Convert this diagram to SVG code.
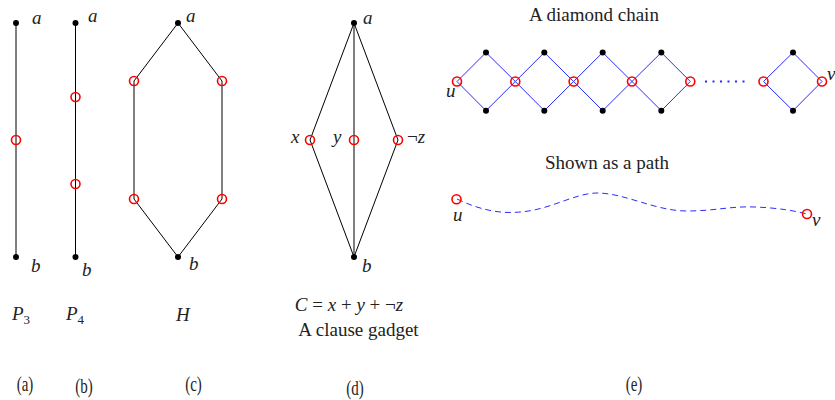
<svg xmlns="http://www.w3.org/2000/svg" width="835" height="400" viewBox="0 0 835 400">
<style>
.e{stroke:#000;stroke-width:1;fill:none}
.bl{stroke:#2b2bff;stroke-width:1;fill:none}
.dot{fill:#000}
.oc{fill:none;stroke:#ff0000;stroke-width:1.6}
</style>
<rect width="835" height="400" fill="#fff"/>
<g id="connectors">
<line class="e" x1="16" y1="23" x2="16" y2="257"/>
<line class="e" x1="75.5" y1="23" x2="75.5" y2="257"/>
<polyline class="e" points="134,199 134,81 178,23 222,81 222,199 178,257 134,199"/>
<line class="e" x1="354" y1="23" x2="310" y2="140"/>
<line class="e" x1="310" y1="140" x2="354" y2="257"/>
<line class="e" x1="354" y1="23" x2="354" y2="257"/>
<line class="e" x1="354" y1="23" x2="398" y2="140"/>
<line class="e" x1="398" y1="140" x2="354" y2="257"/>
<polygon class="bl" points="457,81.5 486,52.5 515.3,81.5 486,110.7"/>
<polygon class="bl" points="515.3,81.5 544.3,52.5 573.6,81.5 544.3,110.7"/>
<polygon class="bl" points="573.6,81.5 602.7,52.5 632,81.5 602.7,110.7"/>
<polygon class="bl" points="632,81.5 661.3,52.5 690.3,81.5 661.3,110.7"/>
<polygon class="bl" points="763.5,81.5 793,52.5 822,81.5 793,110.7"/>
<line x1="705" y1="81.5" x2="746" y2="81.5" stroke="#2b2bff" stroke-width="2.2" stroke-dasharray="2,5.5"/>
<path class="bl" stroke-dasharray="6,4" d="M457,199 C480,210 500,214 520,212 C550,210 575,193 597,193 C625,193 655,211 687,211 C715,211 730,206 755,207 C780,208 795,211 807,214"/>
</g>
<g id="a-graph">
<circle class="dot" cx="16" cy="23" r="3"/>
<circle class="oc" cx="16" cy="140" r="4.5"/>
<circle class="dot" cx="16" cy="257" r="3"/>
<text font-family="Liberation Serif" font-style="italic" font-size="19" fill="#222" x="32" y="24">a</text>
<text font-family="Liberation Serif" font-style="italic" font-size="19" fill="#222" x="31" y="272">b</text>
<text font-family="Liberation Serif" font-style="italic" font-size="19" fill="#222" x="12" y="320">P<tspan font-style="normal" font-size="13" dy="4">3</tspan></text>
<g transform="translate(25,391) scale(0.75,1)"><text font-family="Liberation Serif" font-size="20" fill="#222" text-anchor="middle">(a)</text></g>
</g>
<g id="b-graph">
<circle class="dot" cx="75.5" cy="23" r="3"/>
<circle class="oc" cx="75.5" cy="97" r="4.5"/>
<circle class="oc" cx="75.5" cy="184" r="4.5"/>
<circle class="dot" cx="75.5" cy="257" r="3"/>
<text font-family="Liberation Serif" font-style="italic" font-size="19" fill="#222" x="88" y="22">a</text>
<text font-family="Liberation Serif" font-style="italic" font-size="19" fill="#222" x="82" y="276">b</text>
<text font-family="Liberation Serif" font-style="italic" font-size="19" fill="#222" x="66" y="320">P<tspan font-style="normal" font-size="13" dy="4">4</tspan></text>
<g transform="translate(84,393) scale(0.75,1)"><text font-family="Liberation Serif" font-size="20" fill="#222" text-anchor="middle">(b)</text></g>
</g>
<g id="c-graph">
<circle class="dot" cx="178" cy="23" r="3"/>
<circle class="oc" cx="134" cy="81" r="4.5"/>
<circle class="oc" cx="222" cy="81" r="4.5"/>
<circle class="oc" cx="134" cy="199" r="4.5"/>
<circle class="oc" cx="222" cy="199" r="4.5"/>
<circle class="dot" cx="178" cy="257" r="3"/>
<text font-family="Liberation Serif" font-style="italic" font-size="19" fill="#222" x="186" y="22">a</text>
<text font-family="Liberation Serif" font-style="italic" font-size="19" fill="#222" x="189" y="270">b</text>
<text font-family="Liberation Serif" font-style="italic" font-size="19" fill="#222" x="176" y="321">H</text>
<g transform="translate(193.5,391) scale(0.75,1)"><text font-family="Liberation Serif" font-size="20" fill="#222" text-anchor="middle">(c)</text></g>
</g>
<g id="d-graph">
<circle class="dot" cx="354" cy="23" r="3"/>
<circle class="oc" cx="310" cy="140" r="4.5"/>
<circle class="oc" cx="354" cy="140" r="4.5"/>
<circle class="oc" cx="398" cy="140" r="4.5"/>
<circle class="dot" cx="354" cy="257" r="3"/>
<text font-family="Liberation Serif" font-style="italic" font-size="19" fill="#222" x="363" y="24">a</text>
<text font-family="Liberation Serif" font-style="italic" font-size="19" fill="#222" x="362" y="272">b</text>
<text font-family="Liberation Serif" font-style="italic" font-size="19" fill="#222" x="291" y="143">x</text>
<text font-family="Liberation Serif" font-style="italic" font-size="19" fill="#222" x="333" y="143">y</text>
<text font-family="Liberation Serif" font-size="19" fill="#222" x="407" y="143">¬<tspan font-style="italic">z</tspan></text>
<text font-family="Liberation Serif" font-size="19" fill="#222" x="349" y="311" text-anchor="middle"><tspan font-style="italic">C</tspan> = <tspan font-style="italic">x</tspan> + <tspan font-style="italic">y</tspan> + ¬<tspan font-style="italic">z</tspan></text>
<text font-family="Liberation Serif" font-size="19" fill="#222" x="358.5" y="336" text-anchor="middle">A clause gadget</text>
<g transform="translate(355,395) scale(0.75,1)"><text font-family="Liberation Serif" font-size="20" fill="#222" text-anchor="middle">(d)</text></g>
</g>
<g id="e-chain">
<text font-family="Liberation Serif" font-size="19" fill="#222" x="594" y="21" text-anchor="middle">A diamond chain</text>
<circle class="dot" cx="486" cy="52.5" r="3"/>
<circle class="dot" cx="486" cy="110.7" r="3"/>
<circle class="dot" cx="544.3" cy="52.5" r="3"/>
<circle class="dot" cx="544.3" cy="110.7" r="3"/>
<circle class="dot" cx="602.7" cy="52.5" r="3"/>
<circle class="dot" cx="602.7" cy="110.7" r="3"/>
<circle class="dot" cx="661.3" cy="52.5" r="3"/>
<circle class="dot" cx="661.3" cy="110.7" r="3"/>
<circle class="dot" cx="793" cy="52.5" r="3"/>
<circle class="dot" cx="793" cy="110.7" r="3"/>
<circle class="oc" cx="457" cy="81.5" r="4.5"/>
<circle class="oc" cx="515.3" cy="81.5" r="4.5"/>
<circle class="oc" cx="573.6" cy="81.5" r="4.5"/>
<circle class="oc" cx="632" cy="81.5" r="4.5"/>
<circle class="oc" cx="690.3" cy="81.5" r="4.5"/>
<circle class="oc" cx="763.5" cy="81.5" r="4.5"/>
<circle class="oc" cx="822" cy="81.5" r="4.5"/>
<text font-family="Liberation Serif" font-style="italic" font-size="19" fill="#222" x="446" y="97">u</text>
<text font-family="Liberation Serif" font-style="italic" font-size="19" fill="#222" x="827" y="80">v</text>
</g>
<g id="e-path">
<text font-family="Liberation Serif" font-size="19" fill="#222" x="607" y="169" text-anchor="middle">Shown as a path</text>
<circle class="oc" cx="456.5" cy="199.3" r="4.5"/>
<circle class="oc" cx="807" cy="214" r="4.5"/>
<text font-family="Liberation Serif" font-style="italic" font-size="19" fill="#222" x="453" y="221">u</text>
<text font-family="Liberation Serif" font-style="italic" font-size="19" fill="#222" x="812" y="226">v</text>
<g transform="translate(634,391) scale(0.75,1)"><text font-family="Liberation Serif" font-size="20" fill="#222" text-anchor="middle">(e)</text></g>
</g>
</svg>
